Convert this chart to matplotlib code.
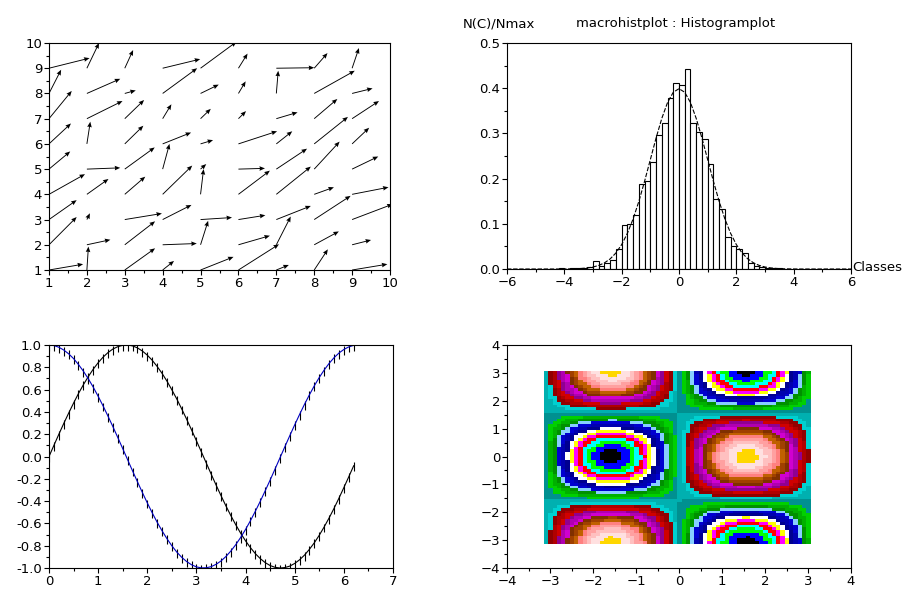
import numpy as np
import matplotlib.pyplot as plt
from matplotlib.colors import ListedColormap, BoundaryNorm
from matplotlib.ticker import MultipleLocator, FormatStrFormatter

plt.rcParams['font.family'] = ['DejaVu Sans']
plt.rcParams['font.size'] = 9.5

# --- champ (vector field), rows are y=1..9, columns x=1..9
champ_u = [
    [0.90, 0.04, 0.80, 0.30, 0.87, 1.07, 0.33, 0.36, 0.93],
    [0.73, 0.62, 0.80, 0.90, 0.20, 0.83, 0.38, 0.65, 0.50],
    [0.73, 0.08, 0.98, 0.76, 0.83, 0.71, 0.91, 0.96, 1.07],
    [0.95, 0.57, 0.54, 0.78, 0.08, 0.83, 0.91, 0.52, 0.96],
    [0.56, 0.88, 0.79, 0.18, 0.15, 0.70, 0.81, 0.67, 0.69],
    [0.58, 0.09, 0.49, 0.75, 0.33, 1.02, 0.42, 0.89, 0.45],
    [0.60, 0.94, 0.51, 0.23, 0.27, 0.20, 0.56, 0.61, 0.71],
    [0.32, 0.88, 0.29, 0.91, 0.48, 0.19, 0.05, 1.07, 0.54],
    [1.07, 0.32, 0.22, 0.99, 0.95, 0.24, 1.00, 0.35, 0.18],
]
champ_v = [
    [0.23, 0.93, 0.86, 0.36, 0.52, 1.02, 0.20, 0.82, 0.23],
    [1.10, 0.20, 0.93, 0.05, 0.95, 0.36, 1.12, 0.53, 0.19],
    [0.77, 0.25, 0.24, 0.58, 0.08, 0.17, 0.54, 0.94, 0.61],
    [0.80, 0.61, 0.70, 1.14, 1.00, 0.94, 1.10, 0.28, 0.28],
    [0.70, 0.05, 0.86, 1.00, 0.20, 0.03, 0.81, 1.09, 0.50],
    [0.81, 0.88, 0.72, 0.45, 0.15, 0.50, 0.50, 1.07, 0.64],
    [1.10, 0.70, 0.74, 0.57, 0.39, 0.30, 0.25, 0.78, 0.70],
    [0.94, 0.58, 0.12, 1.00, 0.35, 0.48, 0.90, 0.90, 0.20],
    [0.40, 1.00, 0.72, 0.36, 1.05, 0.58, 0.02, 0.60, 0.80],
]
champ_pos = [1, 2, 3, 4, 5, 6, 7, 8, 9]

# --- histogram (classes of width 0.2) and normal density curve
hist_left = [-4.2, -4.0, -3.8, -3.6, -3.4, -3.2, -3.0, -2.8, -2.6, -2.4,
             -2.2, -2.0, -1.8, -1.6, -1.4, -1.2, -1.0, -0.8, -0.6, -0.4,
             -0.2, 0.0, 0.2, 0.4, 0.6, 0.8, 1.0, 1.2, 1.4, 1.6,
             1.8, 2.0, 2.2, 2.4, 2.6, 2.8, 3.0, 3.2, 3.4]
hist_height = [0.0025, 0.0, 0.0025, 0.0025, 0.0025, 0.005, 0.0175, 0.0075, 0.0125, 0.02,
               0.045, 0.0975, 0.1, 0.12, 0.1875, 0.195, 0.2375, 0.2975, 0.3225, 0.3775,
               0.4125, 0.4075, 0.4425, 0.3225, 0.3025, 0.2875, 0.2325, 0.155, 0.1325, 0.07,
               0.05, 0.045, 0.035, 0.0125, 0.0075, 0.005, 0.0025, 0.0025, 0.0025]
class_width = 0.2
dens_x = np.linspace(-6, 6, 61)
dens_y = [0, 0, 0, 0, 0, 0, 0, 0, 0, 0,
          0.0001, 0.0003, 0.0006, 0.0012, 0.0024, 0.0044, 0.0079, 0.0136, 0.0224, 0.0355,
          0.054, 0.079, 0.1109, 0.1497, 0.1942, 0.242, 0.2897, 0.3332, 0.3683, 0.391,
          0.3989,
          0.391, 0.3683, 0.3332, 0.2897, 0.242, 0.1942, 0.1497, 0.1109, 0.079, 0.054,
          0.0355, 0.0224, 0.0136, 0.0079, 0.0044, 0.0024, 0.0012, 0.0006, 0.0003, 0.0001,
          0, 0, 0, 0, 0, 0, 0, 0, 0, 0]

# --- sin / cos with error bars, t = 0:0.1:6.2
t = np.linspace(0, 6.2, 63)
sin_vals = [0.000, 0.100, 0.199, 0.296, 0.389, 0.479, 0.565, 0.644, 0.717, 0.783,
            0.841, 0.891, 0.932, 0.964, 0.985, 0.997, 1.000, 0.992, 0.974, 0.946,
            0.909, 0.863, 0.808, 0.746, 0.676, 0.598, 0.516, 0.427, 0.335, 0.239,
            0.141, 0.042, -0.058, -0.158, -0.256, -0.351, -0.443, -0.530, -0.612, -0.688,
            -0.757, -0.818, -0.872, -0.916, -0.952, -0.978, -0.994, -1.000, -0.996, -0.983,
            -0.959, -0.926, -0.884, -0.832, -0.773, -0.706, -0.631, -0.551, -0.465, -0.374,
            -0.279, -0.182, -0.083]
cos_vals = [1.000, 0.995, 0.980, 0.955, 0.921, 0.878, 0.825, 0.765, 0.697, 0.622,
            0.540, 0.454, 0.362, 0.268, 0.170, 0.071, -0.029, -0.129, -0.227, -0.323,
            -0.416, -0.505, -0.589, -0.666, -0.737, -0.801, -0.857, -0.904, -0.942, -0.971,
            -0.990, -0.999, -0.998, -0.988, -0.967, -0.937, -0.897, -0.848, -0.791, -0.726,
            -0.654, -0.575, -0.490, -0.401, -0.307, -0.211, -0.112, -0.012, 0.088, 0.187,
            0.284, 0.378, 0.469, 0.554, 0.635, 0.709, 0.776, 0.835, 0.886, 0.928,
            0.960, 0.983, 0.997]
err_minus = 0.05
err_plus = 0.03

# scilab default colormap (32 colours)
scilab_cmap = ['#000000', '#0000ff', '#00ff00', '#00ffff', '#ff0000', '#ff00ff', '#ffff00', '#ffffff',
               '#000090', '#0000b0', '#0000d0', '#87ceff', '#009000', '#00b000', '#00d000', '#009090',
               '#00b0b0', '#00d0d0', '#900000', '#b00000', '#d00000', '#900090', '#b000b0', '#d000d0',
               '#803000', '#a04000', '#c06000', '#ff8080', '#ffa0a0', '#ffc0c0', '#ffe0e0', '#ffd700']


W, H = 905, 590
fig = plt.figure(figsize=(W / 100, H / 100), dpi=100)


def box(l, t_, r, b):
    return [l / W, 1 - b / H, (r - l) / W, (b - t_) / H]


def style(ax, major, minor):
    ax.xaxis.set_major_locator(MultipleLocator(major[0]))
    ax.yaxis.set_major_locator(MultipleLocator(major[1]))
    ax.xaxis.set_minor_locator(MultipleLocator(minor[0]))
    ax.yaxis.set_minor_locator(MultipleLocator(minor[1]))
    ax.tick_params(which='both', direction='out', width=0.8, top=False, right=False, pad=1.5)
    ax.tick_params(which='major', length=3.5)
    ax.tick_params(which='minor', length=2)
    for s in ax.spines.values():
        s.set_linewidth(0.8)


# champ
ax1 = fig.add_axes(box(49, 43, 390, 270))
X, Y = np.meshgrid(champ_pos, champ_pos)
ax1.quiver(X, Y, champ_u, champ_v, angles='xy', scale_units='xy', scale=1,
           width=0.0027, headwidth=5, headlength=6, headaxislength=5.5, color='black')
ax1.set_xlim(1, 10)
ax1.set_ylim(1, 10)
style(ax1, (1, 1), (0.5, 0.5))

# histplot
ax2 = fig.add_axes(box(507, 43, 851, 269))
ax2.bar(hist_left, hist_height, width=class_width, align='edge',
        facecolor='white', edgecolor='black', linewidth=0.8)
ax2.plot(dens_x, dens_y, color='black', lw=0.8, ls=(0, (4, 1.5)))
ax2.set_xlim(-6, 6)
ax2.set_ylim(0, 0.5)
style(ax2, (2, 0.1), (1, 0.05))
ax2.yaxis.set_major_formatter(FormatStrFormatter('%.1f'))
fig.text(463 / W, 1 - 24 / H, 'N(C)/Nmax', ha='left', va='center')
fig.text(676 / W, 1 - 24 / H, 'macrohistplot : Histogramplot', ha='center', va='center')
fig.text(852 / W, 1 - 268 / H, 'Classes', ha='left', va='center')

# errbar
ax3 = fig.add_axes(box(49, 345, 393, 568))
ax3.errorbar(t, sin_vals, yerr=[[err_minus] * len(t), [err_plus] * len(t)],
             color='black', ecolor='black', lw=0.8, elinewidth=0.8, capsize=0)
ax3.errorbar(t, cos_vals, yerr=[[err_minus] * len(t), [err_plus] * len(t)],
             color='#0000c0', ecolor='black', lw=0.8, elinewidth=0.8, capsize=0)
ax3.set_xlim(0, 7)
ax3.set_ylim(-1, 1)
style(ax3, (1, 0.2), (0.5, 0.1))
ax3.yaxis.set_major_formatter(FormatStrFormatter('%.1f'))

# grayplot of sin(x)*cos(y)
ax4 = fig.add_axes(box(507, 345, 851, 568))
xe = t - np.pi
z = np.outer(cos_vals, sin_vals)
cell = (z[:-1, :-1] + z[1:, :-1] + z[:-1, 1:] + z[1:, 1:]) / 4
n = len(scilab_cmap)
h = (cell.max() - cell.min()) / (n - 1)
bounds = np.linspace(cell.min() - h / 2, cell.max() + h / 2, n + 1)
ax4.pcolormesh(xe, xe, cell, cmap=ListedColormap(scilab_cmap),
               norm=BoundaryNorm(bounds, n), shading='flat')
ax4.set_xlim(-4, 4)
ax4.set_ylim(-4, 4)
style(ax4, (1, 1), (0.5, 0.5))

fig.savefig('out.png', dpi=100)
